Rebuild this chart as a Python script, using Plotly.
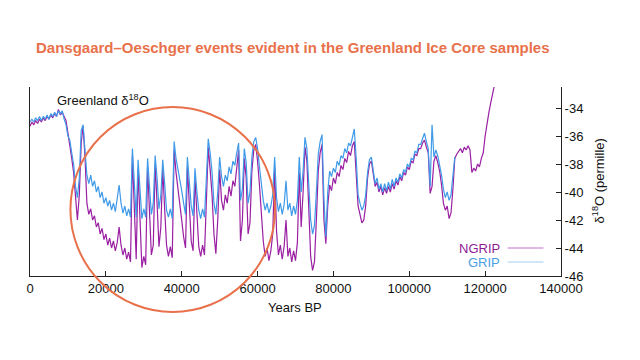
import plotly.graph_objects as go

# ---------------- data ----------------
step_years = 500

ngrip_d18o = [
    -35.3, -35.0, -35.2, -34.9, -35.1, -34.8, -35.0, -34.7, -34.9, -34.6,
    -34.8, -34.5, -34.7, -34.4, -34.6, -34.1, -34.5, -34.3, -34.6, -34.9,
    -35.8, -36.6, -37.6, -38.6, -40.5, -42.0, -40.2, -36.5, -35.3, -37.5,
    -40.8, -41.6, -41.2, -42.0, -41.7, -42.5, -42.2, -43.0, -42.6, -43.4,
    -43.0, -43.8, -43.3, -44.0, -43.5, -44.2, -43.6, -42.5, -43.8, -44.5,
    -44.0, -44.8, -44.3, -45.0,
    -37.4, -41.0, -44.8, -38.4, -42.5, -45.4,
    -44.6, -45.2, -38.2, -41.8, -44.5, -43.8, -38.0, -40.8, -43.9, -42.5,
    -38.3, -41.2, -43.8, -44.6, -43.9, -44.7, -37.0, -38.6, -39.6, -40.6,
    -42.0, -43.2, -44.0, -38.2, -40.8, -43.5, -44.2, -39.0, -41.5, -43.9,
    -44.6, -43.8, -44.5, -40.0, -36.8, -38.4, -40.2, -43.0, -44.4, -42.0,
    -38.4, -40.6, -41.3, -40.2, -40.8, -39.6, -40.3, -39.2, -39.6, -38.3,
    -37.0, -43.5, -42.0, -37.6, -39.0, -43.0, -42.2, -38.5, -37.0, -36.6,
    -37.8, -39.5, -41.5, -43.5, -44.6, -44.0, -44.9, -44.2, -43.0, -38.2,
    -42.8, -44.5, -43.8, -44.8, -43.9, -42.0, -44.6, -44.0, -45.0, -44.2,
    -44.9, -43.6, -38.6, -42.5, -40.0, -36.8, -37.8, -41.5, -44.6, -45.6,
    -45.0, -42.0, -38.5, -37.2, -36.6, -42.0, -43.7, -41.0, -39.5, -39.9,
    -39.0, -39.4, -38.6, -38.9, -38.1, -38.4, -37.6, -37.9, -37.1, -37.4,
    -36.7, -36.4, -38.5, -41.0, -41.6, -42.2, -42.0, -41.0, -39.0, -38.0,
    -37.8, -38.8, -39.6, -39.3, -40.0, -39.6, -40.2, -39.7, -40.1, -39.6,
    -40.0, -39.4, -39.8, -39.2, -39.5, -38.9, -39.2, -38.6, -38.8, -38.2,
    -38.4, -37.8, -37.9, -37.3, -37.4, -36.9, -36.9, -36.5, -36.3, -36.8,
    -37.2, -40.1, -39.6, -37.8, -37.4, -37.9, -38.5, -39.5, -40.8, -41.3,
    -41.0, -41.9, -41.5, -39.8, -37.6, -37.3, -37.1, -36.9, -37.2, -36.8,
    -37.0, -36.7, -37.0, -38.6, -38.3, -38.5, -38.0, -38.2, -37.6, -37.2,
    -36.0, -35.0, -34.3, -33.6, -32.9, -32.3,
]

grip_d18o = [
    -35.0, -34.8, -35.0, -34.7, -34.9, -34.6, -34.9, -34.6, -34.8, -34.5,
    -34.8, -34.4, -34.6, -34.3, -34.6, -34.2, -34.4, -34.2, -34.8, -35.2,
    -36.0, -36.3, -37.2, -38.0, -39.6, -40.4, -39.0, -35.6, -35.2, -37.0,
    -38.8, -39.4, -38.8, -39.6, -39.2, -40.0, -39.6, -40.4, -40.0, -40.8,
    -40.4, -41.0, -40.6, -41.3, -40.8, -41.4, -40.6, -39.5, -40.8, -41.5,
    -41.0, -41.7, -41.2, -41.8,
    -36.9, -39.5, -41.8, -37.7, -40.2, -41.9,
    -41.2, -41.8, -37.6, -39.6, -41.6, -40.8, -37.4, -39.0, -41.2, -40.2,
    -37.7, -39.4, -41.3, -41.8, -41.2, -41.9, -36.4, -37.6, -38.3, -39.0,
    -39.9, -40.8, -41.6, -37.5, -39.2, -41.0, -41.7, -38.3, -40.0, -41.3,
    -41.9, -41.2, -41.8, -38.5, -36.2, -37.2, -38.6, -40.8, -41.6, -40.0,
    -37.5, -38.9, -39.6, -38.8, -39.2, -38.2, -38.7, -37.8, -38.1, -37.2,
    -36.5, -40.6, -39.8, -36.9, -37.9, -40.8, -40.0, -37.5, -36.4, -36.1,
    -36.9, -38.2, -39.6, -40.6, -41.3, -40.8, -41.5, -41.0, -40.2, -37.5,
    -40.4, -41.4, -40.8, -41.6, -40.9, -39.2, -41.3, -40.8, -41.7, -41.0,
    -41.6, -40.6, -37.5, -40.0, -38.5, -36.1, -36.9, -39.5, -42.0, -43.0,
    -42.4, -40.0, -37.3, -36.4, -35.9, -40.5, -43.2, -40.0, -38.5, -38.9,
    -38.3, -38.6, -37.8, -38.1, -37.4, -37.6, -36.9, -37.2, -36.5, -36.7,
    -36.0, -35.5, -37.6, -40.2, -40.8, -41.3, -41.0, -40.2, -38.6, -37.7,
    -37.5, -38.5, -39.4, -39.0, -39.8, -39.4, -40.0, -39.4, -39.9, -39.3,
    -39.8, -39.1, -39.6, -39.0, -39.3, -38.7, -39.0, -38.4, -38.6, -38.0,
    -38.2, -37.6, -37.7, -37.1, -37.2, -36.6, -36.6, -36.2, -35.8, -36.4,
    -36.9, -39.6, -35.2, -37.5, -37.0, -37.4, -38.0, -38.8, -39.8, -40.4,
    -40.0, -40.6, -40.2, -38.6, -37.5,
]

ngrip_years = [i * step_years for i in range(len(ngrip_d18o))]
grip_years = [i * step_years for i in range(len(grip_d18o))]

x_tick_vals = [0, 20000, 40000, 60000, 80000, 100000, 120000, 140000]
x_tick_text = ["0", "20000", "40000", "60000", "80000", "100000", "120000", "140000"]
y_tick_vals = [-34, -36, -38, -40, -42, -44, -46]
y_tick_text = ["-34", "-36", "-38", "-40", "-42", "-44", "-46"]

series_names = ["NGRIP", "GRIP"]
series_colors = ["#9a1fa2", "#3f9ae8"]
legend_text_colors = ["#8e1a93", "#4b9ee3"]
legend_line_colors = ["#c46ccc", "#a4cdef"]

title_text = "Dansgaard\u2013Oeschger events evident in the Greenland Ice Core samples"
accent = "#e8714b"

FONT = "Liberation Sans, Arial, sans-serif"

fig = go.Figure()
fig.add_trace(go.Scatter(x=ngrip_years, y=ngrip_d18o, mode="lines", name=series_names[0],
                         line=dict(color=series_colors[0], width=1.2), showlegend=False))
fig.add_trace(go.Scatter(x=grip_years, y=grip_d18o, mode="lines", name=series_names[1],
                         line=dict(color=series_colors[1], width=1.2), showlegend=False))

# plot area geometry in screen px (page body has an 8px default margin)
OFF = 8
L, R, T, B = 29.5, 561.5, 87.0, 276.0
W, H = R - L, B - T
def px(xp):
    return (xp - L) / W
def py(yp):
    return (B - yp) / H

annotations = [
    dict(text=title_text, x=px(34), y=py(47), xref="paper", yref="paper",
         xanchor="left", yanchor="middle", showarrow=False,
         font=dict(family=FONT, size=15, color=accent, weight="bold")),
    dict(text="Greenland \u03b4<sup>18</sup>O", x=px(55), y=py(100), xref="paper", yref="paper",
         xanchor="left", yanchor="middle", showarrow=False,
         font=dict(family=FONT, size=13, color="#111111")),
    dict(text="Years BP", x=px(295), y=py(307), xref="paper", yref="paper",
         xanchor="center", yanchor="middle", showarrow=False,
         font=dict(family=FONT, size=13, color="#111111")),
    dict(text="\u03b4<sup>18</sup>O (permille)", x=px(599), y=py(181), xref="paper", yref="paper",
         xanchor="center", yanchor="middle", showarrow=False, textangle=-90,
         font=dict(family=FONT, size=13, color="#111111")),
]
shapes = []
legend_rows_y = [248, 262]
for name, tc, lc, yy in zip(series_names, legend_text_colors, legend_line_colors, legend_rows_y):
    annotations.append(dict(text=name, x=px(502), y=py(yy), xref="paper", yref="paper",
                            xanchor="right", yanchor="middle", showarrow=False,
                            font=dict(family=FONT, size=13, color=tc)))
    shapes.append(dict(type="line", xref="paper", yref="paper", x0=px(508), x1=px(544),
                       y0=py(yy), y1=py(yy), line=dict(color=lc, width=1)))

# orange circle highlighting the D-O events
shapes.append(dict(type="circle", xref="paper", yref="paper",
                   x0=px(70), x1=px(275), y0=py(312), y1=py(107),
                   line=dict(color=accent, width=2), layer="above"))

fig.update_layout(
    width=640, height=360,
    margin=dict(l=L - OFF, r=640 - (R - OFF), t=T - OFF, b=360 - (B - OFF), autoexpand=False),
    paper_bgcolor="white", plot_bgcolor="white",
    font=dict(family=FONT, size=13, color="#111111"),
    annotations=annotations, shapes=shapes,
)
fig.update_xaxes(range=[0, 140000], tickvals=x_tick_vals, ticktext=x_tick_text,
                 showgrid=False, zeroline=False, showline=True, linecolor="#222222", linewidth=1,
                 ticks="inside", ticklen=5, tickcolor="#222222", mirror=False,
                 tickfont=dict(size=13, color="#111111"))
fig.update_yaxes(range=[-46, -32.5], tickvals=y_tick_vals, ticktext=y_tick_text, side="right",
                 showgrid=False, zeroline=False, showline=True, linecolor="#222222", linewidth=1,
                 ticks="inside", ticklen=5, tickcolor="#222222", mirror=True,
                 tickfont=dict(size=13, color="#111111"))

fig.write_html("out.html")
